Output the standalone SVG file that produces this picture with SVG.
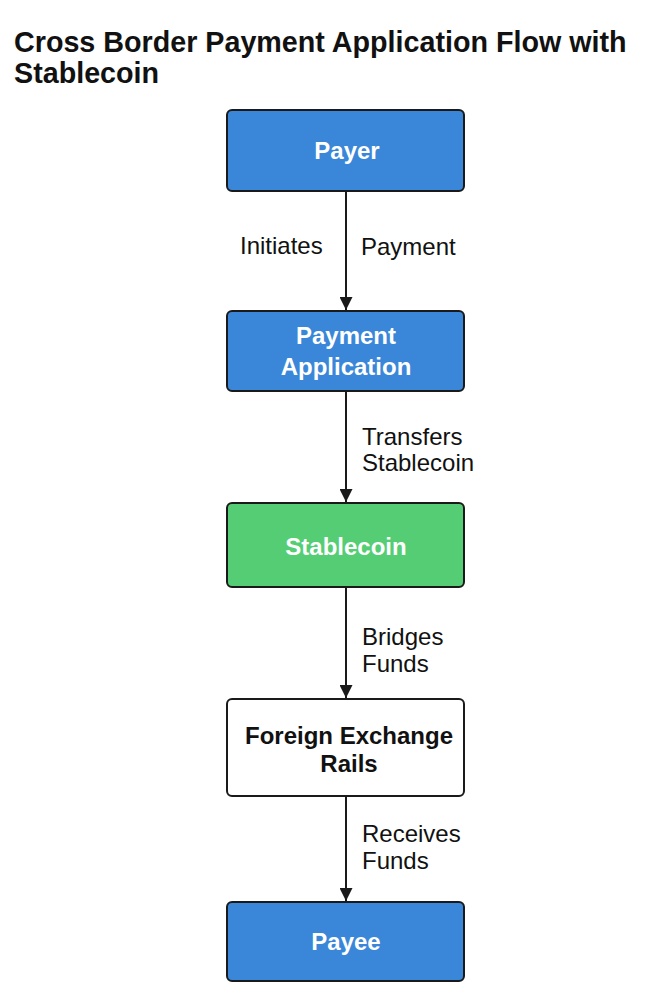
<svg xmlns="http://www.w3.org/2000/svg" width="658" height="1005" viewBox="0 0 658 1005">
<style>
.title{font-family:"Liberation Sans",Arial,sans-serif;font-weight:bold;font-size:28.7px;fill:#111}
.box{stroke:#1a1a1a;stroke-width:2}
.blue{fill:#3a86d8}
.green{fill:#55cd74}
.white{fill:#ffffff}
.nt{font-family:"Liberation Sans",Arial,sans-serif;font-weight:bold;font-size:24px;fill:#fff;text-anchor:middle}
.nt.dark{fill:#111}
.lbl{font-family:"Liberation Sans",Arial,sans-serif;font-size:24px;fill:#111}
.edge{stroke:#1a1a1a;stroke-width:2;fill:none;marker-end:url(#ah)}
</style>
<defs>
<marker id="ah" viewBox="0 0 10 10" refX="10" refY="5" markerWidth="13" markerHeight="13" markerUnits="userSpaceOnUse" orient="auto">
<path d="M0,0 L10,5 L0,10 z" fill="#1a1a1a"/>
</marker>
</defs>
<rect width="658" height="1005" fill="#fff"/>
<text class="title" x="14" y="52">Cross Border Payment Application Flow with</text>
<text class="title" x="14" y="83">Stablecoin</text>
<g id="connectors">
<line class="edge" x1="346" y1="192" x2="346" y2="310"/>
<line class="edge" x1="346" y1="392" x2="346" y2="502"/>
<line class="edge" x1="346" y1="588" x2="346" y2="698"/>
<line class="edge" x1="346" y1="797" x2="346" y2="901"/>
<text class="lbl" x="240" y="254">Initiates</text>
<text class="lbl" x="361" y="255">Payment</text>
<text class="lbl" x="362" y="445">Transfers</text>
<text class="lbl" x="362" y="471">Stablecoin</text>
<text class="lbl" x="362" y="645">Bridges</text>
<text class="lbl" x="362" y="672">Funds</text>
<text class="lbl" x="362" y="842">Receives</text>
<text class="lbl" x="362" y="869">Funds</text>
</g>
<g id="payer">
<rect class="box blue" x="227" y="110" width="237" height="81" rx="5"/>
<text class="nt" x="347" y="159">Payer</text>
</g>
<g id="payment-application">
<rect class="box blue" x="227" y="311" width="237" height="80" rx="5"/>
<text class="nt" x="346" y="344">Payment</text>
<text class="nt" x="346" y="375">Application</text>
</g>
<g id="stablecoin">
<rect class="box green" x="227" y="503" width="237" height="84" rx="5"/>
<text class="nt" x="346" y="555">Stablecoin</text>
</g>
<g id="fx-rails">
<rect class="box white" x="227" y="699" width="237" height="97" rx="5"/>
<text class="nt dark" x="349" y="744">Foreign Exchange</text>
<text class="nt dark" x="349" y="772">Rails</text>
</g>
<g id="payee">
<rect class="box blue" x="227" y="902" width="237" height="79" rx="5"/>
<text class="nt" x="346" y="950">Payee</text>
</g>
</svg>
